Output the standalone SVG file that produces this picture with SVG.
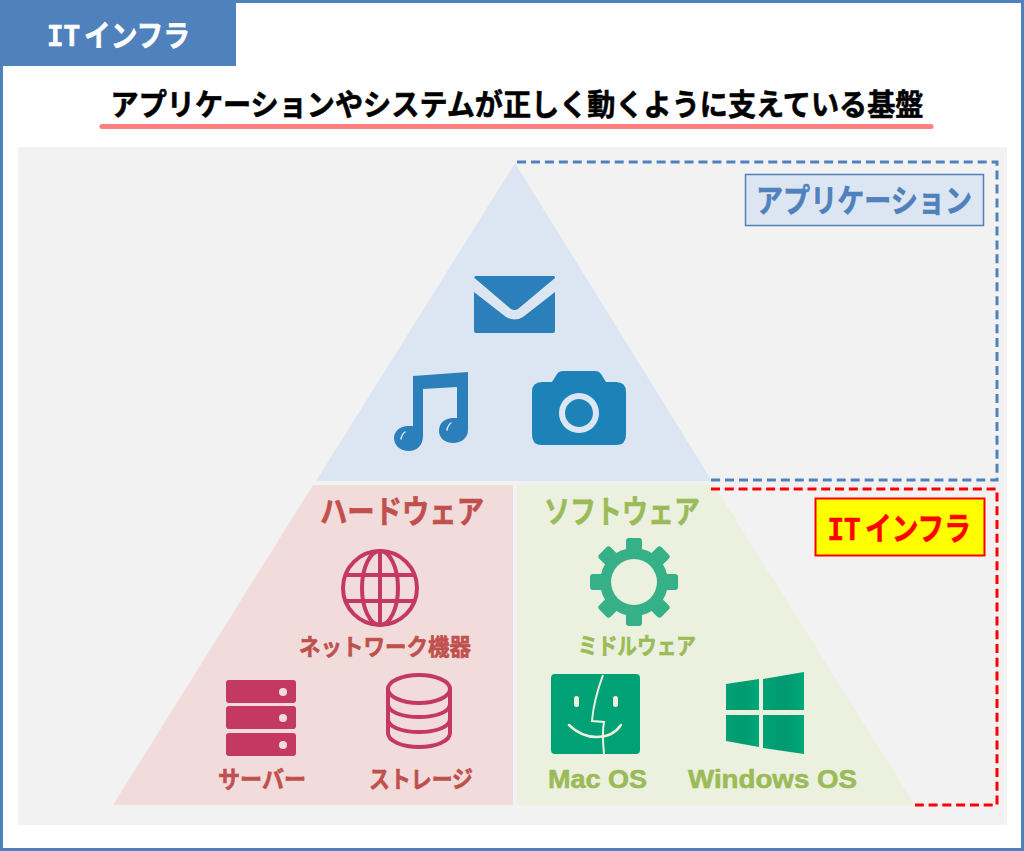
<svg xmlns="http://www.w3.org/2000/svg" width="1024" height="851" viewBox="0 0 1024 851">
<style>
text{font-family:"Noto Sans CJK JP","Noto Sans",sans-serif;font-weight:700;text-anchor:middle}
.lat{font-family:"Liberation Sans","Noto Sans",sans-serif}
.mono{font-family:"Liberation Mono",monospace}
.heavy{stroke-width:.6;stroke-linejoin:round}
.red{fill:#c0504d;stroke:#c0504d}.grn{fill:#9bbb59;stroke:#9bbb59}
.ri{fill:#c4395f}.rs{fill:none;stroke:#c4395f}
</style>
<defs><linearGradient id="win" x1="0" y1="0" x2="1" y2="0"><stop offset="0" stop-color="#00a275"/><stop offset=".55" stop-color="#009a70"/><stop offset="1" stop-color="#00a87a"/></linearGradient></defs>
<rect x="1.500" y="1.500" width="1021" height="848" fill="#fff" stroke="#4f81bd" stroke-width="3"/>
<g id="tab"><rect x="2" y="2" width="234" height="64" fill="#4f81bd"/><text class="mono heavy" x="63.500" y="46" font-size="32" fill="#fff" stroke="#fff" textLength="33" lengthAdjust="spacingAndGlyphs">IT</text><text x="137" y="46" font-size="30" fill="#fff" stroke="#fff" class="heavy" textLength="106" lengthAdjust="spacingAndGlyphs">インフラ</text></g>
<g id="title"><text x="517" y="115" font-size="30" fill="#000" stroke="#000" class="heavy" textLength="813" lengthAdjust="spacingAndGlyphs">アプリケーションやシステムが正しく動くように支えている基盤</text><line x1="102" y1="126.500" x2="931" y2="126.500" stroke="#ff8080" stroke-width="5" stroke-linecap="round"/></g>
<rect id="panel" x="18" y="147" width="989" height="678" fill="#f2f2f2"/>
<g id="app-tier"><polygon points="515,163 712,481 316,481" fill="#dce6f2"/>
<path id="mail" fill="#2b80bb" d="M476 276Q474 276 474.500 278L511 309Q514.500 311 518 309L555 278Q555.500 276 553 276ZM474 292V331Q474 333 476 333H553Q555 333 555 331V292L523 317Q514.500 322 506 317Z"/>
<path id="music" fill="#2b80bb" d="M413 376L468 372V430C468 439 460 443 453 443C445 443 439 438 439 431C439 423 445 418 453 418H457V387L423 389V436C423 445 417 451 409 451C400 451 394 445 394 438C394 431 400 426 408 426H413Z"/>
<g id="music-shine" fill="none" stroke="#dce6f2" stroke-width="1.500" stroke-linecap="round"><path d="M401 439Q402 434 405 432"/><path d="M447 430Q448 425 451 423"/></g>
<path id="camera" fill="#1c82b8" fill-rule="evenodd" d="M542 382H552L557 374Q559 371 563 371H595Q599 371 601 374L606 382H616Q626 382 626 392V435Q626 445 616 445H542Q532 445 532 435V392Q532 382 542 382ZM579 393a20 20 0 1 0 .01 0ZM579 399a14 14 0 1 1 -.01 0Z"/>
</g>
<g id="hardware"><polygon points="313,485 513,485 513,805 113,805" fill="#f2dcdb"/>
<text class="red heavy" x="402" y="523" font-size="32" textLength="164" lengthAdjust="spacingAndGlyphs">ハードウェア</text>
<g id="globe" class="rs" stroke-width="4"><circle cx="380" cy="588" r="37"/><ellipse cx="380" cy="588" rx="18" ry="37"/><line x1="380" y1="551" x2="380" y2="625"/><line x1="347" y1="575" x2="413" y2="575"/><line x1="347" y1="601" x2="413" y2="601"/></g>
<text class="red heavy" x="385" y="655" font-size="23" textLength="172" lengthAdjust="spacingAndGlyphs">ネットワーク機器</text>
<g id="server"><rect class="ri" x="226" y="680" width="70" height="23" rx="3"/><rect class="ri" x="226" y="706" width="70" height="23" rx="3"/><rect class="ri" x="226" y="733" width="70" height="23" rx="3"/><circle cx="283" cy="692" r="4" fill="#f2dcdb"/><circle cx="283" cy="718" r="4" fill="#f2dcdb"/><circle cx="283" cy="745" r="4" fill="#f2dcdb"/></g>
<text class="red heavy" x="262" y="788" font-size="24" textLength="88" lengthAdjust="spacingAndGlyphs">サーバー</text>
<g id="storage" class="rs" stroke-width="4"><ellipse cx="419" cy="689" rx="31" ry="14"/><path d="M388 689V733C388 741 402 747 419 747S450 741 450 733V689M388 704C388 712 402 717 419 717S450 712 450 704M388 719C388 727 402 732 419 732S450 727 450 719"/></g>
<text class="red heavy" x="421" y="788" font-size="24" textLength="104" lengthAdjust="spacingAndGlyphs">ストレージ</text>
</g>
<g id="software"><polygon points="517,485 714,485 915,805 517,805" fill="#ebf1de"/>
<text class="grn heavy" x="622" y="523" font-size="32" textLength="156" lengthAdjust="spacingAndGlyphs">ソフトウェア</text>
<g id="gear"><g fill="#36b086"><circle cx="634" cy="582" r="34"/><rect x="626" y="538" width="16" height="88" rx="3"/><rect x="590" y="574" width="88" height="16" rx="3"/><rect x="626" y="538" width="16" height="88" rx="3" transform="rotate(45 634 582)"/><rect x="626" y="538" width="16" height="88" rx="3" transform="rotate(-45 634 582)"/></g><circle cx="634" cy="582" r="23" fill="#ebf1de"/></g>
<text class="grn heavy" x="637" y="654" font-size="23" textLength="118" lengthAdjust="spacingAndGlyphs">ミドルウェア</text>
<g id="finder"><rect x="551" y="674" width="89" height="80" rx="4" fill="#00a275"/><g fill="none" stroke="#ebf1de" stroke-width="2"><path d="M603 675C596 694 593 708 592 721L604 722C602 732 603 744 604 754"/><path d="M569 725C585 741 610 741 621 725" stroke-linecap="round" stroke-width="2.500"/></g><rect x="574" y="696" width="5" height="11" rx="2.500" fill="#ebf1de"/><rect x="613" y="696" width="5" height="11" rx="2.500" fill="#ebf1de"/></g>
<text class="grn lat heavy" x="597.500" y="788" font-size="26" textLength="99" lengthAdjust="spacingAndGlyphs">Mac OS</text>
<g id="windows" fill="url(#win)"><polygon points="726,684 759,679 759,710 726,710"/><polygon points="763,679 804,672 804,710 763,710"/><polygon points="726,715 759,715 759,747 726,741"/><polygon points="763,715 804,715 804,754 763,748"/></g>
<text class="grn lat heavy" x="772.500" y="788" font-size="26" textLength="169" lengthAdjust="spacingAndGlyphs">Windows OS</text>
</g>
<g id="connectors" fill="none" stroke-width="3">
<path d="M517 162H997V480H711" stroke="#4f81bd" stroke-dasharray="9 4.960"/>
<path d="M711 489H997V805H915" stroke="#f00" stroke-dasharray="9 4.780"/>
</g>
<g id="label-app"><rect x="745.500" y="174.500" width="238" height="51" fill="#dce6f2" stroke="#4f81bd" stroke-width="1.500"/><text x="864" y="212" font-size="32" fill="#4f81bd" stroke="#4f81bd" class="heavy" textLength="216" lengthAdjust="spacingAndGlyphs">アプリケーション</text></g>
<g id="label-it"><rect x="815.500" y="498.500" width="169" height="57" fill="#ff0" stroke="#f00" stroke-width="2"/><text class="mono heavy" x="844" y="540" font-size="34" fill="#f00" stroke="#f00" textLength="33" lengthAdjust="spacingAndGlyphs">IT</text><text x="918" y="540" font-size="32" fill="#f00" stroke="#f00" class="heavy" textLength="106" lengthAdjust="spacingAndGlyphs">インフラ</text></g>
</svg>
